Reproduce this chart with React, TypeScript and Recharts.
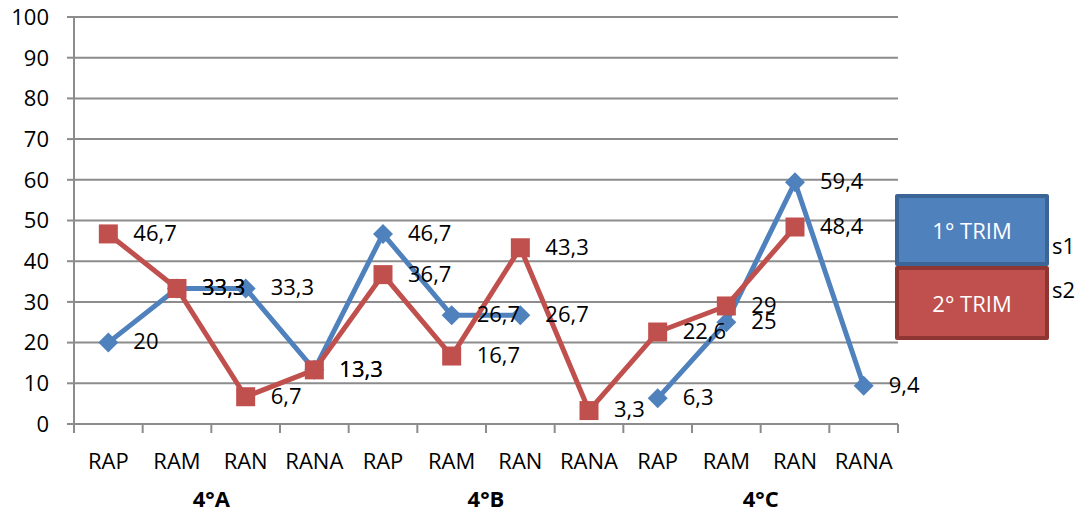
import { LineChart, Line, XAxis, YAxis, CartesianGrid, LabelList } from "recharts";

const categories = ["RAP", "RAM", "RAN", "RANA", "RAP", "RAM", "RAN", "RANA", "RAP", "RAM", "RAN", "RANA"];
const groups = ["4°A", "4°B", "4°C"];
const trim1: (number | null)[] = [20, 33.3, 33.3, 13.3, 46.7, 26.7, 26.7, null, 6.3, 25, 59.4, 9.4];
const trim2: (number | null)[] = [46.7, 33.3, 6.7, 13.3, 36.7, 16.7, 43.3, 3.3, 22.6, 29, 48.4, null];
const yTicks = [0, 10, 20, 30, 40, 50, 60, 70, 80, 90, 100];

const W = 1082;
const H = 514;
const MARGIN = { top: 17, right: 184, bottom: 0, left: 0 };
const X_HEIGHT = 90;
const Y_WIDTH = 74;
const BAND = (W - MARGIN.right - Y_WIDTH) / categories.length;

const FONT = "'Open Sans', sans-serif";
const BLUE = "#4F81BD";
const RED = "#C0504D";
const GRID = "#8c8c8c";

const data = categories.map((c, i) => ({ cat: c + i, label: c, s1: trim1[i], s2: trim2[i] }));

const fmt = (v: unknown) => (typeof v === "number" ? String(v).replace(".", ",") : "");

function CatTick(props: any) {
  const { x, y, index } = props;
  const left = x - BAND / 2;
  const g = Math.floor(index / 4);
  return (
    <g>
      <line x1={left} y1={y - 8} x2={left} y2={y + 1} stroke={GRID} strokeWidth={2} />
      {index === categories.length - 1 && (
        <line x1={x + BAND / 2} y1={y - 8} x2={x + BAND / 2} y2={y + 1} stroke={GRID} strokeWidth={2} />
      )}
      <text x={x} y={y + 37} textAnchor="middle" fontSize={22} fontFamily={FONT} fill="#000">
        {data[index]?.label}
      </text>
      {index % 4 === 1 && (
        <text x={x + BAND / 2} y={y + 75} textAnchor="middle" fontSize={22} fontWeight="bold" fontFamily={FONT} fill="#000">
          {groups[g]}
        </text>
      )}
    </g>
  );
}

function Diamond(props: any) {
  const { cx, cy, value } = props;
  if (value == null || cx == null) return null;
  const r = 10;
  return <path d={`M${cx},${cy - r}L${cx + r},${cy}L${cx},${cy + r}L${cx - r},${cy}Z`} fill={BLUE} />;
}

function Square(props: any) {
  const { cx, cy, value } = props;
  if (value == null || cx == null) return null;
  const r = 9.5;
  return <rect x={cx - r} y={cy - r} width={2 * r} height={2 * r} fill={RED} />;
}

function ValueLabel(props: any) {
  const { x, y, value } = props;
  if (value == null) return null;
  return (
    <text x={x + 25} y={y + 1} dominantBaseline="middle" fontSize={22} fontFamily={FONT} fill="#000">
      {fmt(value)}
    </text>
  );
}

function LegendBoxes() {
  const box = (text: string, fill: string, border: string, tag: string, top: number, height: number, tagTop: number) => (
    <div style={{ position: "absolute", left: 0, top, width: 154, height }}>
      <div
        style={{
          position: "absolute", inset: 0, background: fill, border: `4px solid ${border}`, borderRadius: 2,
          boxSizing: "border-box", color: "#fff", fontFamily: FONT, fontSize: 22,
          display: "flex", alignItems: "center", justifyContent: "center",
        }}
      >
        {text}
      </div>
      <div style={{ position: "absolute", left: 157, top: tagTop, fontFamily: FONT, fontSize: 22, color: "#000" }}>{tag}</div>
    </div>
  );
  return (
    <div style={{ position: "absolute", left: 895, top: 194, width: 190, height: 150 }}>
      {box("1° TRIM", BLUE, "#3a6596", "s1", 0, 72, 36)}
      {box("2° TRIM", RED, "#8f3532", "s2", 72, 74, 8)}
    </div>
  );
}

export default function App() {
  return (
    <div style={{ position: "absolute", left: 0, top: 0, width: W, height: H, background: "#fff" }}>
      <LineChart width={W} height={H} data={data} margin={MARGIN}>
        <CartesianGrid vertical={false} stroke={GRID} strokeWidth={2} />
        <YAxis
          domain={[0, 100]}
          ticks={yTicks}
          width={Y_WIDTH}
          axisLine={{ stroke: GRID, strokeWidth: 2 }}
          tickLine={{ stroke: GRID, strokeWidth: 2 }}
          tickSize={7}
          tickMargin={18}
          tick={{ fontSize: 22, fontFamily: FONT, fill: "#000" }}
          interval={0}
        />
        <XAxis
          dataKey="cat"
          interval={0}
          padding={{ left: BAND / 2, right: BAND / 2 }}
          axisLine={{ stroke: GRID, strokeWidth: 2 }}
          tickLine={false}
          tick={<CatTick />}
          height={X_HEIGHT}
        />
        <Line
          dataKey="s1"
          stroke={BLUE}
          strokeWidth={5}
          dot={<Diamond />}
          activeDot={false}
          connectNulls={false}
          isAnimationActive={false}
        >
          <LabelList dataKey="s1" content={<ValueLabel />} />
        </Line>
        <Line
          dataKey="s2"
          stroke={RED}
          strokeWidth={5}
          dot={<Square />}
          activeDot={false}
          connectNulls={false}
          isAnimationActive={false}
        >
          <LabelList dataKey="s2" content={<ValueLabel />} />
        </Line>
      </LineChart>
      <LegendBoxes />
    </div>
  );
}
